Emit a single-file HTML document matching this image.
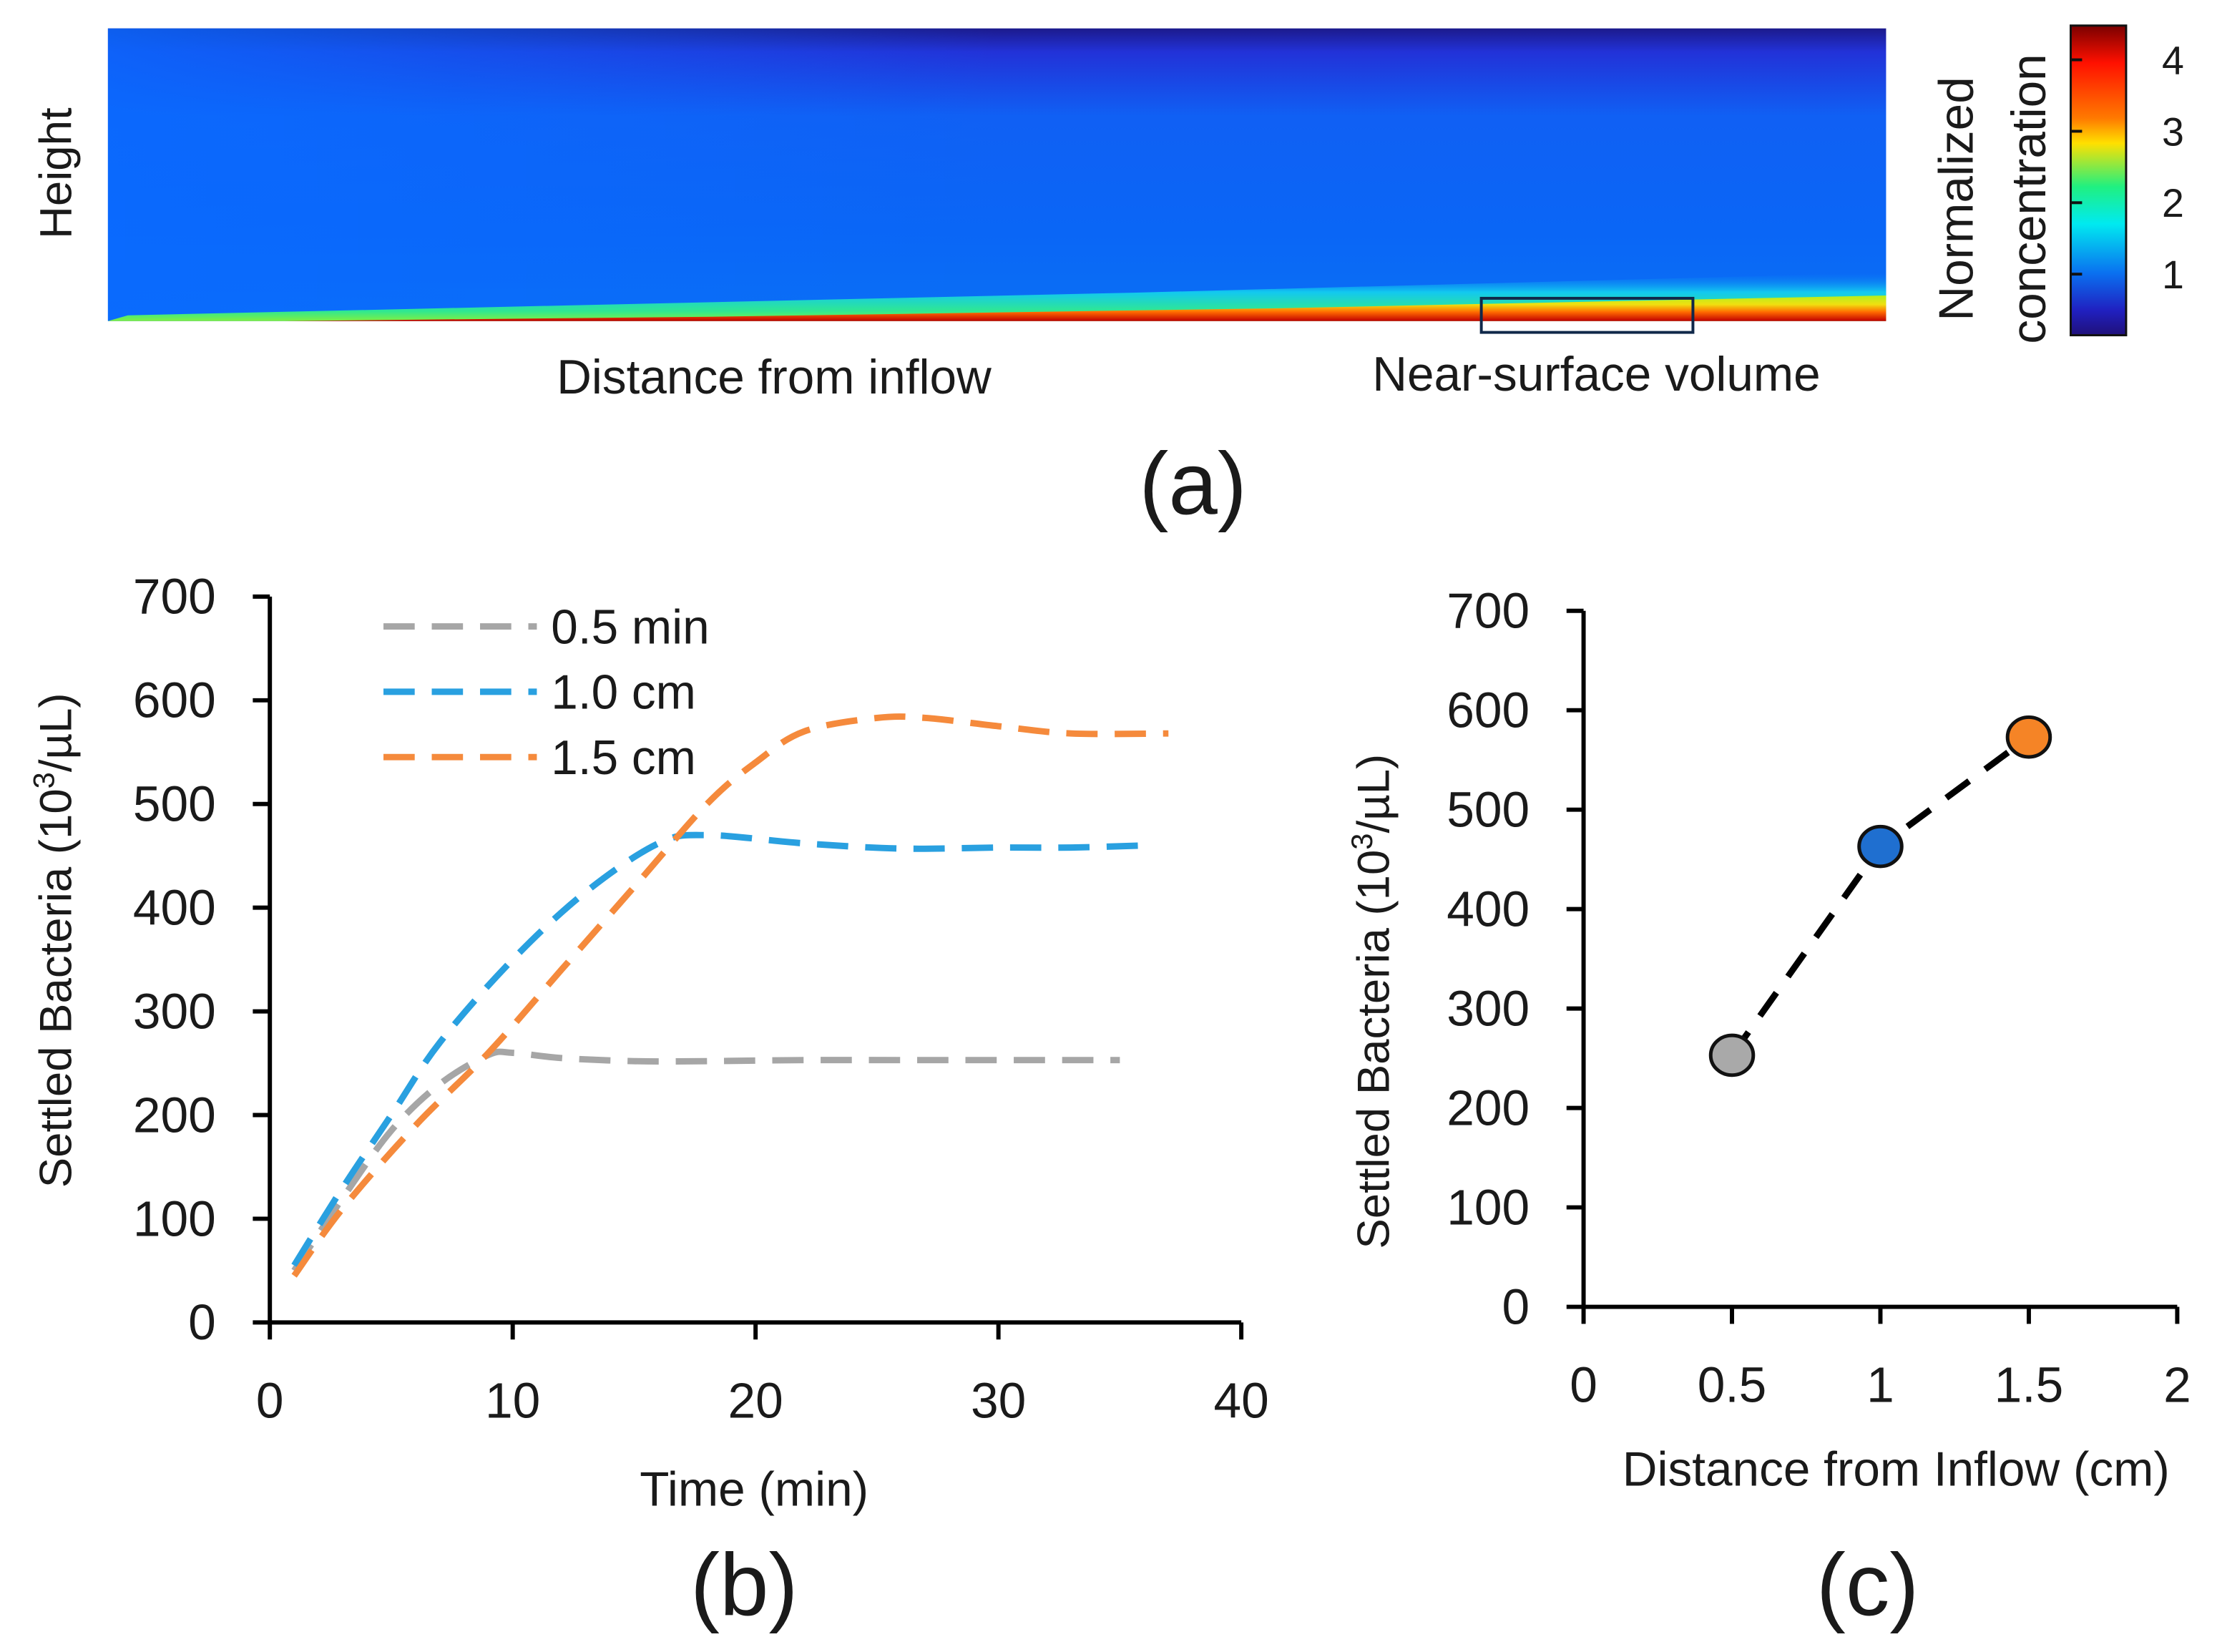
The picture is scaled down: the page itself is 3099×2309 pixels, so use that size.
<!DOCTYPE html>
<html><head><meta charset="utf-8"><style>
html,body{margin:0;padding:0;background:#fff;}
svg{display:block;}
text{font-family:"Liberation Sans",sans-serif;fill:#1a1a1a;}
</style></head><body>
<svg id="fig" width="3099" height="2309" viewBox="0 0 1561 1163" preserveAspectRatio="none" xmlns="http://www.w3.org/2000/svg">
<defs>
<linearGradient id="bgV" x1="0" y1="0" x2="0" y2="1">
<stop offset="0" stop-color="#1c1a8c"/><stop offset="0.08" stop-color="#2232d8"/><stop offset="0.3" stop-color="#1060f4"/><stop offset="0.7" stop-color="#0a66f6"/><stop offset="1" stop-color="#0a70f4"/>
</linearGradient>
<linearGradient id="bgH" x1="0" y1="0" x2="1" y2="0">
<stop offset="0" stop-color="#0a6aff" stop-opacity="0.85"/><stop offset="0.5" stop-color="#0a6aff" stop-opacity="0"/>
</linearGradient>
<linearGradient id="bandC" x1="0" y1="0" x2="0" y2="1">
<stop offset="0" stop-color="#0a7af5" stop-opacity="0"/><stop offset="0.4" stop-color="#12c8f0"/><stop offset="0.8" stop-color="#30e890"/><stop offset="1" stop-color="#80f040"/>
</linearGradient>
<linearGradient id="bandR" x1="0" y1="0" x2="0" y2="1">
<stop offset="0" stop-color="#b0f020"/><stop offset="0.35" stop-color="#f0e010"/><stop offset="0.65" stop-color="#ff6a00"/><stop offset="1" stop-color="#c00000"/>
</linearGradient>
<linearGradient id="jet" x1="0" y1="0" x2="0" y2="1">
<stop offset="0" stop-color="#7a0000"/><stop offset="0.12" stop-color="#ff1000"/><stop offset="0.3" stop-color="#ff7a00"/><stop offset="0.38" stop-color="#ffe000"/><stop offset="0.52" stop-color="#20f080"/><stop offset="0.64" stop-color="#00eaf0"/><stop offset="0.8" stop-color="#0a70f0"/><stop offset="0.92" stop-color="#2020c0"/><stop offset="1" stop-color="#20107a"/>
</linearGradient>
</defs>

<g>
<rect x="76" y="20" width="1252" height="206" fill="url(#bgV)"/>
<rect x="76" y="20" width="1252" height="206" fill="url(#bgH)"/>
<polygon points="76,226 90,222 400,215 800,206 1328,192 1328,226" fill="url(#bandC)"/>
<polygon points="200,226 500,223 900,217 1328,208 1328,226" fill="url(#bandR)"/>
<rect x="1043" y="210" width="149" height="24" fill="none" stroke="#10284a" stroke-width="2"/>
<text transform="translate(50,122) rotate(-90)" text-anchor="middle" font-size="32">Height</text>
<text x="545" y="277" text-anchor="middle" font-size="34">Distance from inflow</text>
<text x="1124" y="275" text-anchor="middle" font-size="34">Near-surface volume</text>
<text transform="translate(1389,140) rotate(-90)" text-anchor="middle" font-size="34">Normalized</text>
<text transform="translate(1440,140) rotate(-90)" text-anchor="middle" font-size="34">concentration</text>
<rect x="1458" y="18" width="39" height="218" fill="url(#jet)" stroke="#111" stroke-width="1.5"/>
<g id="cbticks"></g>
<text x="840" y="362" text-anchor="middle" font-size="62">(a)</text>
</g>

<g id="pb">
<text transform="translate(50,662) rotate(-90)" text-anchor="middle" font-size="32">Settled Bacteria (10<tspan font-size="21" dy="-12">3</tspan><tspan dy="12">/µL)</tspan></text>
<text x="531" y="1060" text-anchor="middle" font-size="34">Time (min)</text>
<text x="524" y="1137" text-anchor="middle" font-size="62">(b)</text>
</g>

<g id="pc">
<text transform="translate(978,705) rotate(-90)" text-anchor="middle" font-size="32">Settled Bacteria (10<tspan font-size="21" dy="-12">3</tspan><tspan dy="12">/µL)</tspan></text>
<text x="1335" y="1046" text-anchor="middle" font-size="34">Distance from Inflow (cm)</text>
<text x="1315" y="1137" text-anchor="middle" font-size="62">(c)</text>
</g>
</svg>
<script>
const NS="http://www.w3.org/2000/svg";
const cbTicks=[1,2,3,4];
const bXTicks=[0,10,20,30,40];
const bYTicks=[0,100,200,300,400,500,600,700];
const grayT=[1,3,5,7,9,10,12,15,18,22,28,35];
const grayV=[50,120,185,230,258,260,255,252,252,253,253,253];
const blueT=[1,3,5,7,10,13,16,18,22,26,30,33,36];
const blueV=[55,130,200,270,350,415,462,470,462,457,458,458,460];
const orangeT=[1,3,6,9,12,15,18,20,22,25,27,30,33,37];
const orangeV=[45,110,190,260,340,420,500,540,570,583,583,575,568,568];
const legendLabels=["0.5 min","1.0 cm","1.5 cm"];
const cXTicks=[0,0.5,1,1.5,2];
const cYTicks=[0,100,200,300,400,500,600,700];
const cDist=[0.5,1,1.5];
const cVals=[253,463,573];
const cColors=["#a9a9a9","#1f6fd0","#f58426"];

function mk(tag,attrs,parent){const e=document.createElementNS(NS,tag);for(const k in attrs)e.setAttribute(k,attrs[k]);parent.appendChild(e);return e;}

const cbg=document.getElementById('cbticks');
const cbY=v=>193-(v-1)*50.3;
cbTicks.forEach(v=>{
  const t=mk('text',{x:1530,y:cbY(v)+10,'text-anchor':'middle','font-size':28},cbg);
  
  
  t.textContent=v;
  const l=mk('line',{x1:1458,x2:1466,y1:cbY(v),y2:cbY(v),stroke:'#111','stroke-width':2},cbg);
  
  
});

const pb=document.getElementById('pb');
const bx=t=>190+t*(874-190)/40;
const by=v=>931-v*(931-420)/700;
let ax=mk('path',{d:`M190,${by(700)} V931 H${bx(40)}`,fill:'none',stroke:'#000','stroke-width':3},pb);


bYTicks.forEach(v=>{
  const l=mk('line',{x1:178,x2:190,y1:by(v),y2:by(v),stroke:'#000','stroke-width':3},pb);
  
  
  const t=mk('text',{x:152,y:by(v)+12,'text-anchor':'end','font-size':35},pb);
  
  
  t.textContent=v;
});
bXTicks.forEach(v=>{
  const l=mk('line',{x1:bx(v),x2:bx(v),y1:931,y2:943,stroke:'#000','stroke-width':3},pb);
  
  
  const t=mk('text',{x:bx(v),y:998,'text-anchor':'middle','font-size':35},pb);
  
  
  t.textContent=v;
});
function smooth(T,V){
  const p=T.map((t,i)=>[bx(t),by(V[i])]);
  let d=`M${p[0][0]},${p[0][1]}`;
  for(let i=0;i<p.length-1;i++){
    const p0=p[Math.max(0,i-1)],p1=p[i],p2=p[i+1],p3=p[Math.min(p.length-1,i+2)];
    const c1=[p1[0]+(p2[0]-p0[0])/6,p1[1]+(p2[1]-p0[1])/6];
    const c2=[p2[0]-(p3[0]-p1[0])/6,p2[1]-(p3[1]-p1[1])/6];
    d+=` C${c1[0]},${c1[1]} ${c2[0]},${c2[1]} ${p2[0]},${p2[1]}`;
  }
  return d;
}
const series=[[grayT,grayV,'#a6a6a6','series-0-5-min'],[blueT,blueV,'#29a0e0','series-1-0-cm'],[orangeT,orangeV,'#f58a3c','series-1-5-cm']];
series.forEach((s,i)=>{
  const p=mk('path',{d:smooth(s[0],s[1]),fill:'none',stroke:s[2],'stroke-width':4.5,'stroke-dasharray':'22 12'},pb);
  
  
  const ly=441+i*46;
  const l=mk('line',{x1:270,x2:378,y1:ly,y2:ly,stroke:s[2],'stroke-width':4.5,'stroke-dasharray':'22 12'},pb);
  
  
  const t=mk('text',{x:388,y:ly+12,'font-size':34},pb);
  
  
  t.textContent=legendLabels[i];
});

const pc=document.getElementById('pc');
const cx=d=>1115+d*(1533-1115)/2;
const cy=v=>920-v*(920-430)/700;
ax=mk('path',{d:`M1115,${cy(700)} V920 H${cx(2)}`,fill:'none',stroke:'#000','stroke-width':3},pc);


cYTicks.forEach(v=>{
  const l=mk('line',{x1:1103,x2:1115,y1:cy(v),y2:cy(v),stroke:'#000','stroke-width':3},pc);
  
  
  const t=mk('text',{x:1077,y:cy(v)+12,'text-anchor':'end','font-size':35},pc);
  
  
  t.textContent=v;
});
cXTicks.forEach(v=>{
  const l=mk('line',{x1:cx(v),x2:cx(v),y1:920,y2:932,stroke:'#000','stroke-width':3},pc);
  
  
  const t=mk('text',{x:cx(v),y:987,'text-anchor':'middle','font-size':35},pc);
  
  
  t.textContent=v;
});
const cpts=cDist.map((d,i)=>[cx(d),cy(cVals[i])]);
let cd=`M${cpts[0][0]},${cpts[0][1]}`;
for(let i=1;i<cpts.length;i++)cd+=` L${cpts[i][0]},${cpts[i][1]}`;
const cline=mk('path',{d:cd,fill:'none',stroke:'#000','stroke-width':4.5,'stroke-dasharray':'20 14'},pc);


cDist.forEach((d,i)=>{
  const c=mk('ellipse',{cx:cx(d),cy:cy(cVals[i]),rx:15,ry:14,fill:cColors[i],stroke:'#111','stroke-width':2.5},pc);
  
  
});
</script>
</body></html>
